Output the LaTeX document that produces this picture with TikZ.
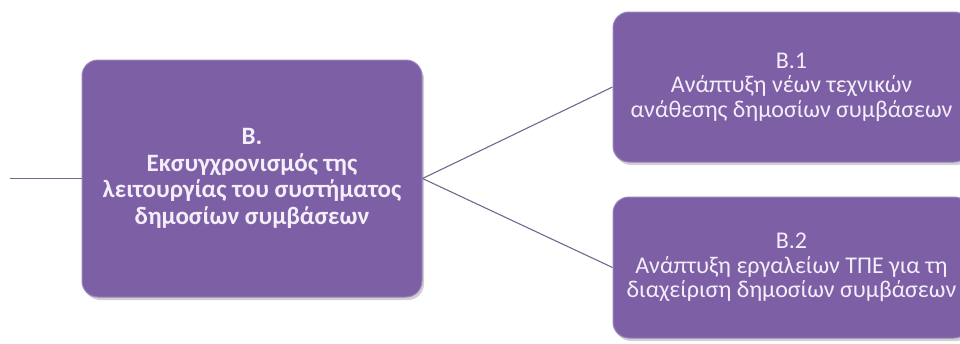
\documentclass[tikz,border=0pt]{standalone}
\usepackage{fontspec}
\setmainfont{Carlito}
\usetikzlibrary{shadows}
\definecolor{boxfill}{HTML}{7D5FA5}
\definecolor{boxedge}{HTML}{9A82BC}
\definecolor{boxtext}{HTML}{F3EEF9}
\definecolor{linkcol}{HTML}{76668F}
\begin{document}
\begin{tikzpicture}[x=1pt,y=-1pt,
  box/.style={draw=boxedge,line width=1pt,fill=boxfill,rounded corners=16pt,
    text=boxtext,align=center,inner sep=0pt,
    drop shadow={shadow xshift=2pt,shadow yshift=-3pt,fill=black,opacity=0.18}},
  mainbox/.style={box,minimum width=340pt,minimum height=237pt,
    font=\fontsize{25}{26.5}\selectfont\bfseries},
  subbox/.style={box,minimum width=357pt,font=\fontsize{24}{24.5}\selectfont},
  link/.style={draw=linkcol,line width=1.1pt}]
\useasboundingbox (0,0) rectangle (960,343);
\node[mainbox] (main) at (252,178.5) {B.\\Εκσυγχρονισμός της\\λειτουργίας του συστήματος\\δημοσίων συμβάσεων};
\node[subbox,minimum height=150pt] (b1) at (791.5,87) {B.1\\Ανάπτυξη νέων τεχνικών\\ανάθεσης δημοσίων συμβάσεων};
\node[subbox,minimum height=141pt] (b2) at (791.5,267.5) {B.2\\Ανάπτυξη εργαλείων ΤΠΕ για τη\\διαχείριση δημοσίων συμβάσεων};
\coordinate (start) at (10,178.5);
\draw[link] (start) -- (main.west);
\draw[link] (main.east) -- (b1.west);
\draw[link] (main.east) -- (b2.west);
\end{tikzpicture}
\end{document}
